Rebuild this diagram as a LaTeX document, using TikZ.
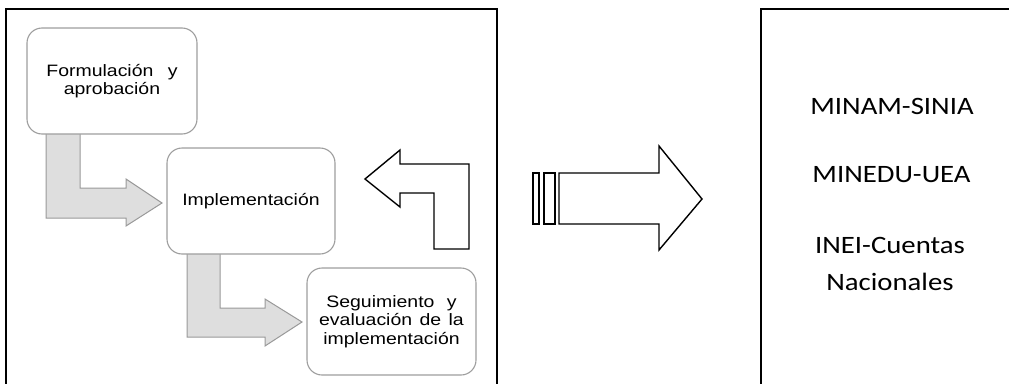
\documentclass[tikz,border=0pt]{standalone}
\usepackage{fontspec}
\setmainfont{Liberation Sans}
\newfontfamily\arialw[FakeStretch=1.18]{Liberation Sans}
\newfontfamily\calw[FakeStretch=1.15]{Carlito}
\begin{document}
\begin{tikzpicture}[x=1pt,y=-1pt,
  frame/.style={draw=black,line width=1.8pt},
  stepbox/.style={draw=black!38,line width=1.1pt,rounded corners=15pt,fill=white,
    align=center,inner sep=0pt,font=\arialw\fontsize{16.5}{18.5}\selectfont},
  grayarrow/.style={draw=black!40,line width=1pt,fill=black!13,line join=miter},
  outarrow/.style={draw=black,line width=1.4pt,fill=white,line join=miter},
  orgtext/.style={align=center,inner sep=0pt,font=\calw\fontsize{25}{37}\selectfont}]
\useasboundingbox (0,0) rectangle (1009,383);
% frames
\draw[frame] (6,385) -- (6,9) -- (497,9) -- (497,385);
\draw[frame] (761,385) -- (761,9) -- (1012,9);
% gray bent arrows
\draw[grayarrow] (46,133) -- (80,133) -- (80,188) -- (126,188) -- (126,179) -- (162,203) -- (126,226) -- (126,218) -- (46,218) -- cycle;
\draw[grayarrow] (187,253) -- (220,253) -- (220,308) -- (265,308) -- (265,299) -- (302,322) -- (265,346) -- (265,337) -- (187,337) -- cycle;
% boxes
\node[stepbox,minimum width=170pt,minimum height=106pt] (b1) at (112,81) {Formulación\hspace{9pt} y\\aprobación};
\node[stepbox,minimum width=168pt,minimum height=106pt] (b2) at (251,201) {Implementación};
\node[stepbox,minimum width=169pt,minimum height=107pt] (b3) at (391.5,321.5) {Seguimiento\hspace{7pt} y\\evaluación\hspace{2pt} de\hspace{2pt} la\\implementación};
% outline arrows
\draw[outarrow] (365,179) -- (400,150) -- (400,164) -- (469,164) -- (469,249) -- (434,249) -- (434,193) -- (400,193) -- (400,207) -- cycle;
\draw[outarrow] (533,173) rectangle (539,224);
\draw[outarrow] (544,173) rectangle (555,224);
\draw[outarrow] (559,173) -- (659,173) -- (659,146) -- (702,199) -- (659,250) -- (659,224) -- (559,224) -- cycle;
% organisations
\node[orgtext] (o1) at (892,106) {MINAM-SINIA};
\node[orgtext] (o2) at (891.5,175) {MINEDU-UEA};
\node[orgtext] (o3) at (890,264) {INEI-Cuentas\\Nacionales};
\end{tikzpicture}
\end{document}
